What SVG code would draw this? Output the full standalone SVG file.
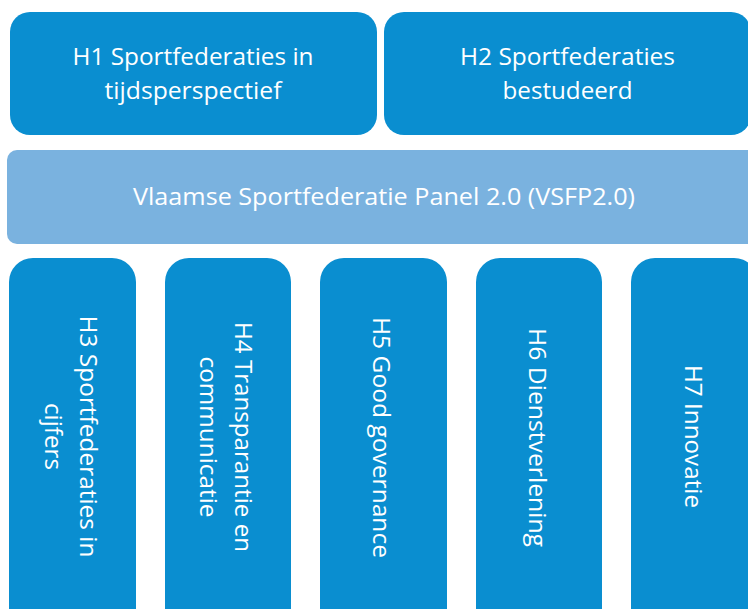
<svg xmlns="http://www.w3.org/2000/svg" width="748" height="609" viewBox="0 0 748 609">
<style>
.dark{fill:#0a8ed0;}
.light{fill:#7ab2df;}
text{font-family:"Open Sans","Noto Sans","Liberation Sans",sans-serif;font-size:24px;fill:#ffffff;text-anchor:middle;font-variant-ligatures:none;}
</style>
<rect width="748" height="609" fill="#ffffff"/>
<g id="connectors"></g>
<g id="h1">
<rect class="dark" x="10" y="12" width="367" height="123" rx="20"/>
<text x="193" y="64.5" textLength="241" lengthAdjust="spacingAndGlyphs">H1 Sportfederaties in</text>
<text x="193" y="98.5" textLength="177" lengthAdjust="spacingAndGlyphs">tijdsperspectief</text>
</g>
<g id="h2">
<rect class="dark" x="384" y="12" width="367" height="123" rx="20"/>
<text x="567.5" y="64.5" textLength="215" lengthAdjust="spacingAndGlyphs">H2 Sportfederaties</text>
<text x="567.5" y="98.5" textLength="130" lengthAdjust="spacingAndGlyphs">bestudeerd</text>
</g>
<g id="panel">
<rect class="light" x="7" y="150" width="760" height="94" rx="10"/>
<text x="384" y="205" textLength="502" lengthAdjust="spacingAndGlyphs">Vlaamse Sportfederatie Panel 2.0 (VSFP2.0)</text>
</g>
<g id="h3">
<rect class="dark" x="9" y="258" width="127" height="380" rx="24"/>
<g transform="translate(72.5,436.5) rotate(90)">
<text x="0" y="-7.5" textLength="242" lengthAdjust="spacingAndGlyphs">H3 Sportfederaties in</text>
<text x="0" y="27.5" textLength="67" lengthAdjust="spacingAndGlyphs">cijfers</text>
</g>
</g>
<g id="h4">
<rect class="dark" x="165" y="258" width="126" height="380" rx="24"/>
<g transform="translate(228,437) rotate(90)">
<text x="0" y="-7" textLength="230" lengthAdjust="spacingAndGlyphs">H4 Transparantie en</text>
<text x="0" y="28" textLength="161" lengthAdjust="spacingAndGlyphs">communicatie</text>
</g>
</g>
<g id="h5">
<rect class="dark" x="320" y="258" width="127" height="380" rx="24"/>
<g transform="translate(383.5,437.5) rotate(90)">
<text x="0" y="10.5" textLength="241" lengthAdjust="spacingAndGlyphs">H5 Good governance</text>
</g>
</g>
<g id="h6">
<rect class="dark" x="476" y="258" width="126" height="380" rx="24"/>
<g transform="translate(539,437.5) rotate(90)">
<text x="0" y="10" textLength="219" lengthAdjust="spacingAndGlyphs">H6 Dienstverlening</text>
</g>
</g>
<g id="h7">
<rect class="dark" x="631" y="258" width="127" height="380" rx="24"/>
<g transform="translate(695.5,436.5) rotate(90)">
<text x="0" y="10.5" textLength="143" lengthAdjust="spacingAndGlyphs">H7 Innovatie</text>
</g>
</g>
</svg>
